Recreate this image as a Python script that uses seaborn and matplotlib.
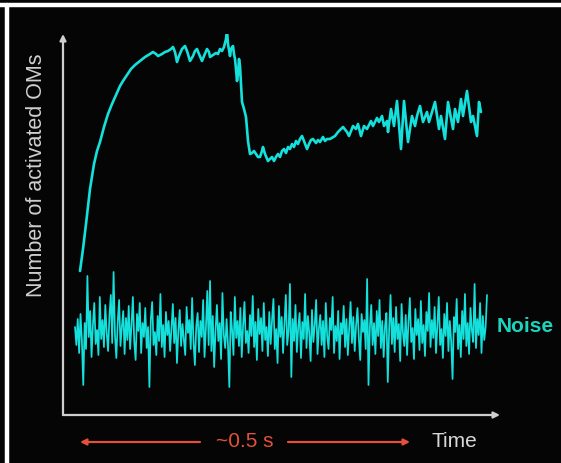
import numpy as np
import pandas as pd
import matplotlib
matplotlib.use("Agg")
import matplotlib.pyplot as plt
from matplotlib.lines import Line2D
from matplotlib.patches import FancyArrowPatch
import seaborn as sns

# ---- data (arbitrary time units, number of activated OMs) ----
signal_time = [0, 3, 6, 10, 14, 17, 20, 24, 28, 32, 36, 40, 43, 47, 51, 55, 60, 65, 70, 73,
               76, 78, 82, 85, 88, 91, 93, 95, 97, 99, 102, 105, 107, 110, 113, 115, 117, 119, 122, 124,
               127, 129, 130, 133, 136, 138, 140, 142, 144, 146, 147, 148, 150, 151, 153, 154, 155, 156, 157, 158,
               159, 160, 161, 162, 164, 166, 167, 168, 170, 172, 174, 176, 178, 180, 182, 183, 185, 188, 190, 192,
               194, 196, 198, 200, 202, 204, 206, 208, 210, 212, 214, 216, 218, 220, 222, 224, 227, 229, 231, 233,
               236, 238, 240, 243, 245, 247,
               250, 255, 258, 263, 267, 269, 273, 276, 278, 281, 284, 287, 291, 293, 297, 299, 302, 304, 307, 308,
               311, 314, 317, 321, 324, 328, 332, 335, 337, 340, 343, 347, 349, 352, 355, 359, 361, 365, 368, 373,
               375, 378, 381, 383, 387, 391, 393, 397, 399, 401]
signal_count = [144, 166, 191, 226, 251, 264, 273, 288, 301, 311, 320, 329, 334, 340, 346, 350, 354, 358, 361, 363,
                361, 359, 361, 363, 364, 366, 368, 363, 353, 359, 366, 369, 364, 354, 359, 364, 366, 361, 354, 359,
                366, 363, 358, 360, 362, 361, 366, 364, 368, 376, 384, 371, 359, 366, 369, 361, 356, 346, 334, 341,
                356, 349, 331, 313, 306, 298, 286, 274, 261, 262, 264, 261, 258, 258, 264, 268, 261, 254, 256, 258,
                254, 258, 261, 258, 264, 266, 262, 268, 266, 271, 268, 274, 271, 276, 279, 274, 266, 271, 275, 276,
                272, 275, 273, 278, 274, 276,
                276, 279, 283, 288, 283, 279, 289, 286, 291, 279, 289, 286, 294, 289, 297, 293, 299, 289, 294, 283,
                306, 289, 314, 266, 314, 273, 299, 289, 299, 309, 293, 303, 293, 303, 313, 286, 299, 276, 313, 286,
                306, 293, 316, 299, 324, 293, 299, 279, 313, 303]

noise_count = [88, 70, 96, 62, 101, 74, 30, 92, 66, 139, 78, 104, 58, 90, 112, 71, 85, 60, 118, 76,
               95, 68, 110, 82, 64, 99, 120, 72, 143, 80, 57, 93, 115, 69, 88, 104, 61, 97, 75, 109,
               66, 90, 118, 73, 55, 101, 84, 112, 62, 92, 78, 107, 67, 88, 28, 95, 113, 70, 83, 60,
               99, 74, 121, 68, 90, 58, 103, 80, 94, 64, 86, 111, 72, 97, 52, 84, 105, 69, 91, 76,
               60, 108, 82, 95, 66, 117, 73, 50, 89, 102, 63, 94, 78, 115, 58, 87, 124, 70, 134, 64,
               99, 48, 85, 110, 74, 92, 56, 122, 80, 67, 96, 71, 28, 103, 85, 60, 118, 77, 94, 69,
               107, 58, 90, 113, 72, 84, 62, 100, 79, 119, 68, 93, 55, 106, 81, 97, 64, 112, 75, 88,
               59, 103, 71, 95, 116, 66, 86, 52, 109, 78, 98, 62, 91, 120, 70, 84, 131, 38, 96, 74,
               110, 63, 88, 102, 57, 93, 76, 121, 67, 99, 82, 54, 105, 73, 90, 115, 61, 86, 100, 70,
               94, 58, 112, 79, 66, 97, 85, 118, 62, 89, 74, 104, 56, 92, 81, 109, 68, 96, 60, 87,
               113, 72, 98, 64, 90, 107, 77, 55, 101, 83, 95, 66, 136, 30, 88, 110, 70, 92, 61, 104,
               79, 115, 67, 94, 58, 89, 102, 33, 86, 120, 71, 97, 63, 108, 76, 91, 54, 111, 82, 69,
               100, 60, 93, 117, 73, 87, 56, 106, 80, 96, 65, 114, 72, 90, 59, 103, 84, 122, 68, 95,
               77, 108, 62, 91, 118, 70, 86, 57, 101, 79, 112, 64, 94, 74, 36, 98, 83, 116, 66, 90,
               58, 104, 76, 121, 69, 92, 61, 107, 85, 73, 131, 67, 96, 80, 112, 62, 99, 75, 88, 120]
noise_start, noise_end = -5, 407

y_label = "Number of activated OMs"
x_label = "Time"
span_label = "~0.5 s"
noise_label = "Noise"

# ---- style ----
sns.set_theme(style="dark")
plt.rcParams["font.family"] = ["Liberation Sans", "DejaVu Sans"]

BG = "#050505"
CYAN = "#14e0dc"
NOISE_TXT = "#1ad4bd"
RED = "#e4503a"
AX = "#cfcfcf"

W, H = 561, 464
fig = plt.figure(figsize=(W / 100, H / 100), dpi=100, facecolor=BG)
ax = fig.add_axes([63 / W, 1 - 416 / H, (500 - 63) / W, (416 - 35) / H])
ax.set_facecolor(BG)

sig_df = pd.DataFrame({"t": signal_time, "n": signal_count})
noise_df = pd.DataFrame({"t": np.linspace(noise_start, noise_end, len(noise_count)),
                         "n": noise_count})

sns.lineplot(data=sig_df, x="t", y="n", ax=ax, color=CYAN, linewidth=1.9,
             sort=False, estimator=None)
sns.lineplot(data=noise_df, x="t", y="n", ax=ax, color=CYAN, linewidth=1.25,
             sort=False, estimator=None)

ax.set_xlim(-17, 420)
ax.set_ylim(0, 381)
ax.set_xticks([])
ax.set_yticks([])
ax.set_xlabel("")
ax.set_ylabel("")
for s in ax.spines.values():
    s.set_visible(False)
ax.grid(False)

# axis arrows
arrow_kw = dict(arrowstyle="-|>", color=AX, lw=1.6, mutation_scale=9,
                shrinkA=0, shrinkB=0)
ax.annotate("", xy=(1, 0), xytext=(0, 0), xycoords="axes fraction",
            arrowprops=arrow_kw, annotation_clip=False)
ax.annotate("", xy=(0, 1), xytext=(0, 0), xycoords="axes fraction",
            arrowprops=arrow_kw, annotation_clip=False)

# frame lines (top and left)
fig.add_artist(Line2D([0, 1], [1 - 6 / H, 1 - 6 / H], color="white", lw=3.2,
                      transform=fig.transFigure))
fig.add_artist(Line2D([7 / W, 7 / W], [0, 1 - 6 / H], color="white", lw=3.2,
                      transform=fig.transFigure))

# texts
fig.text(37 / W, 1 - 175 / H, y_label, rotation=90, ha="center", va="center",
         color=AX, fontsize=15.5)
fig.text(497 / W, 1 - 327 / H, noise_label, ha="left", va="center",
         color=NOISE_TXT, fontsize=15, fontweight="bold")
fig.text(432 / W, 1 - 442 / H, x_label, ha="left", va="center",
         color="#d8d8d8", fontsize=15)
fig.text(245 / W, 1 - 442 / H, span_label, ha="center", va="center",
         color=RED, fontsize=15)

red_kw = dict(arrowstyle="-|>", color=RED, lw=1.6, mutation_scale=9,
              shrinkA=0, shrinkB=0)
yy = 1 - 443 / H
fig.add_artist(FancyArrowPatch((200 / W, yy), (80 / W, yy),
                               transform=fig.transFigure, **red_kw))
fig.add_artist(FancyArrowPatch((288 / W, yy), (410 / W, yy),
                               transform=fig.transFigure, **red_kw))

fig.savefig("out.png", dpi=100, facecolor=BG)
